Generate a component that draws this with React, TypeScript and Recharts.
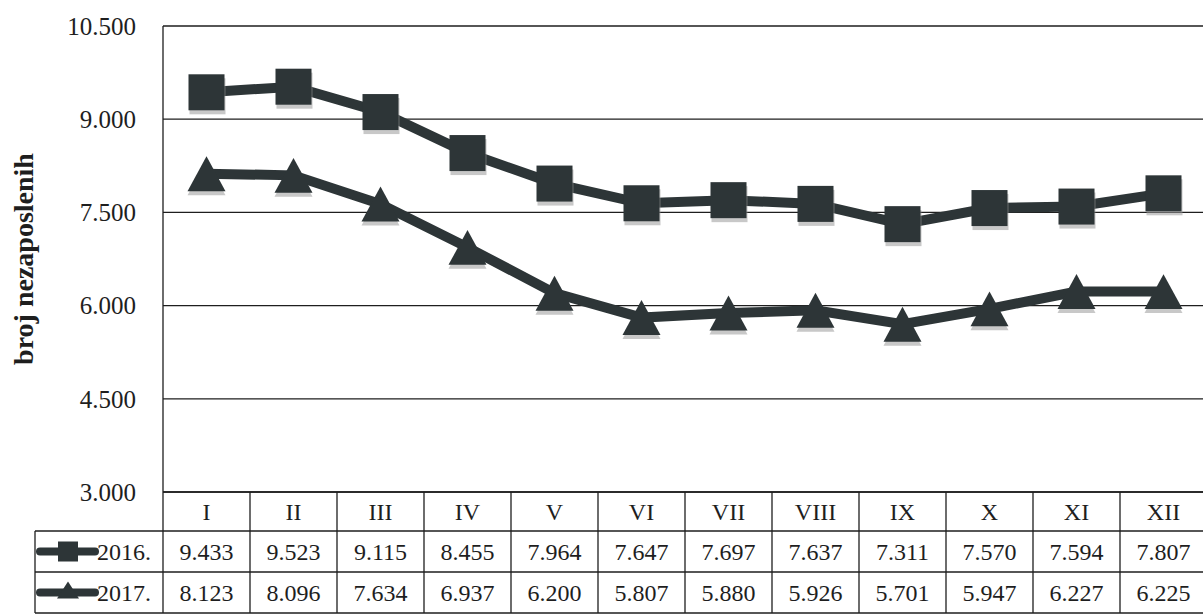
import React from 'react';
import { LineChart, Line, XAxis, YAxis, CartesianGrid } from 'recharts';

const months = ['I', 'II', 'III', 'IV', 'V', 'VI', 'VII', 'VIII', 'IX', 'X', 'XI', 'XII'];
const values2016 = [9433, 9523, 9115, 8455, 7964, 7647, 7697, 7637, 7311, 7570, 7594, 7807];
const values2017 = [8123, 8096, 7634, 6937, 6200, 5807, 5880, 5926, 5701, 5947, 6227, 6225];
const yTicks = [3000, 4500, 6000, 7500, 9000, 10500];
const seriesNames = ['2016.', '2017.'];

const data = months.map((m, i) => ({ month: m, y2016: values2016[i], y2017: values2017[i] }));

const CHART_W = 1210;
const CHART_H = 614;
const PLOT_LEFT = 163;
const MARGIN_RIGHT = 3;
const COL_W = (CHART_W - PLOT_LEFT - MARGIN_RIGHT) / months.length;
const INK = '#2d3537';
const TEXT = '#1e1e1e';
const FONT = '"Liberation Serif", serif';

// table rows below the plot
const ROW_TOP = 492;
const ROW_1 = 531;
const ROW_2 = 572;
const ROW_3 = 613;
const LEGEND_LEFT = 35;

const fmt = (v: number) => {
  const th = Math.floor(v / 1000);
  const rest = String(v % 1000).padStart(3, '0');
  return th > 0 ? `${th}.${rest}` : rest;
};

const Square = ({ cx, cy, size }: { cx: number; cy: number; size: number }) => (
  <g>
    <rect x={cx - size / 2 + 1} y={cy - size / 2 + 4} width={size} height={size} fill="#9a9a9a" opacity={0.55} />
    <rect x={cx - size / 2} y={cy - size / 2} width={size} height={size} fill={INK} />
  </g>
);

const Triangle = ({ cx, cy, size }: { cx: number; cy: number; size: number }) => {
  const h = size * 0.92;
  const pts = (dy: number) =>
    `${cx},${cy - h / 2 + dy} ${cx + size / 2},${cy + h / 2 + dy} ${cx - size / 2},${cy + h / 2 + dy}`;
  return (
    <g>
      <polygon points={pts(4)} fill="#9a9a9a" opacity={0.55} />
      <polygon points={pts(0)} fill={INK} />
    </g>
  );
};

const LegendIcon = ({ y, kind }: { y: number; kind: 'square' | 'triangle' }) => (
  <g>
    <line x1={40} x2={95} y1={y} y2={y} stroke={INK} strokeWidth={8} strokeLinecap="round" />
    {kind === 'square' ? (
      <rect x={58} y={y - 10} width={20} height={20} fill={INK} />
    ) : (
      <polygon points={`68,${y - 11} 79,${y + 6} 57,${y + 6}`} fill={INK} />
    )}
  </g>
);

const TableTick = (props: any) => {
  const { x, payload } = props;
  const i = props.index ?? payload.index;
  const l = x - COL_W / 2;
  const r = x + COL_W / 2;
  const ts = { fontSize: 24, fontFamily: FONT, fill: TEXT };
  return (
    <g>
      {i === 0 && (
        <g>
          <line x1={l} x2={l} y1={ROW_TOP} y2={ROW_3} stroke={TEXT} strokeWidth={1.3} />
          <line x1={LEGEND_LEFT} x2={l} y1={ROW_1} y2={ROW_1} stroke={TEXT} strokeWidth={1.3} />
          <line x1={LEGEND_LEFT} x2={l} y1={ROW_2} y2={ROW_2} stroke={TEXT} strokeWidth={1.3} />
          <line x1={LEGEND_LEFT} x2={l} y1={ROW_3} y2={ROW_3} stroke={TEXT} strokeWidth={1.3} />
          <line x1={LEGEND_LEFT} x2={LEGEND_LEFT} y1={ROW_1} y2={ROW_3} stroke={TEXT} strokeWidth={1.3} />
          <LegendIcon y={(ROW_1 + ROW_2) / 2} kind="square" />
          <LegendIcon y={(ROW_2 + ROW_3) / 2} kind="triangle" />
          <text x={97} y={(ROW_1 + ROW_2) / 2 + 8} {...ts}>{seriesNames[0]}</text>
          <text x={97} y={(ROW_2 + ROW_3) / 2 + 8} {...ts}>{seriesNames[1]}</text>
        </g>
      )}
      <line x1={r} x2={r} y1={ROW_TOP} y2={ROW_3} stroke={TEXT} strokeWidth={1.3} />
      <line x1={l} x2={r} y1={ROW_1} y2={ROW_1} stroke={TEXT} strokeWidth={1.3} />
      <line x1={l} x2={r} y1={ROW_2} y2={ROW_2} stroke={TEXT} strokeWidth={1.3} />
      <line x1={l} x2={r} y1={ROW_3} y2={ROW_3} stroke={TEXT} strokeWidth={1.3} />
      <text x={x} y={(ROW_TOP + ROW_1) / 2 + 8} textAnchor="middle" {...ts}>{payload.value}</text>
      <text x={x} y={(ROW_1 + ROW_2) / 2 + 8} textAnchor="middle" {...ts}>{fmt(values2016[i])}</text>
      <text x={x} y={(ROW_2 + ROW_3) / 2 + 8} textAnchor="middle" {...ts}>{fmt(values2017[i])}</text>
    </g>
  );
};

export default function App() {
  return (
    <div style={{ position: 'absolute', left: 0, top: 0, background: '#fff' }}>
      <LineChart
        width={CHART_W}
        height={CHART_H}
        data={data}
        margin={{ top: 26, right: MARGIN_RIGHT, left: 43, bottom: 0 }}
        style={{ fontFamily: FONT }}
      >
        <CartesianGrid vertical={false} stroke={TEXT} strokeWidth={1.3} />
        <XAxis
          dataKey="month"
          height={CHART_H - ROW_TOP}
          interval={0}
          padding={{ left: COL_W / 2, right: COL_W / 2 }}
          tickLine={false}
          axisLine={{ stroke: TEXT, strokeWidth: 1.3 }}
          tick={(p: any) => <TableTick key={p.index} {...p} />}
        />
        <YAxis
          width={120}
          domain={[3000, 10500]}
          ticks={yTicks}
          allowDataOverflow
          tickFormatter={fmt}
          tickLine={false}
          tickSize={0}
          tickMargin={27}
          axisLine={{ stroke: TEXT, strokeWidth: 1.3 }}
          tick={{ fontSize: 25, fill: TEXT, fontFamily: FONT }}
          label={{
            value: 'broj nezaposlenih',
            angle: -90,
            position: 'insideLeft',
            offset: -20,
            style: { fontSize: 28, fontWeight: 'bold', fill: TEXT, fontFamily: FONT, textAnchor: 'middle' },
          }}
        />
        <Line
          dataKey="y2016"
          stroke={INK}
          strokeWidth={10}
          isAnimationActive={false}
          dot={(p: any) => <Square key={`s${p.index}`} cx={p.cx} cy={p.cy} size={36} />}
          activeDot={false}
        />
        <Line
          dataKey="y2017"
          stroke={INK}
          strokeWidth={10}
          isAnimationActive={false}
          dot={(p: any) => <Triangle key={`t${p.index}`} cx={p.cx} cy={p.cy} size={38} />}
          activeDot={false}
        />
      </LineChart>
    </div>
  );
}
